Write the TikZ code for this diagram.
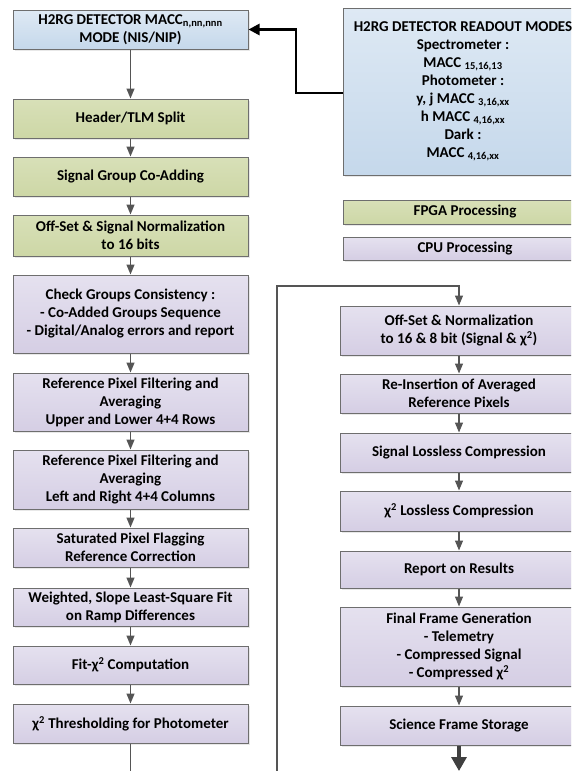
\documentclass[tikz,border=0pt]{standalone}
\usepackage{fontspec}
\setmainfont{Carlito}
\usetikzlibrary{arrows.meta,shadows}
\definecolor{bordergray}{HTML}{6E6E6E}
\definecolor{arrowgray}{HTML}{555555}
\definecolor{blueT}{HTML}{DEE9F4}
\definecolor{blueB}{HTML}{C5D8EB}
\definecolor{greenT}{HTML}{D8E0B8}
\definecolor{greenB}{HTML}{CDD7A6}
\definecolor{purpT}{HTML}{E5E1EF}
\definecolor{purpB}{HTML}{D5CEE4}
\newcommand{\sbs}[1]{\textsubscript{#1}}
\newcommand{\chisq}{χ\textsuperscript{2}}
\tikzset{
  box/.style={draw=bordergray, line width=1pt, rectangle, align=center, inner sep=0pt,
    font={\fontsize{15}{18}\selectfont\bfseries},
    drop shadow={shadow xshift=1.5pt, shadow yshift=-1.5pt, fill=black!18}},
  lbox/.style={box, minimum width=235pt},
  rbox/.style={box, minimum width=238pt},
  bluebox/.style={top color=blueT, bottom color=blueB},
  greenbox/.style={top color=greenT, bottom color=greenB},
  purpbox/.style={top color=purpT, bottom color=purpB},
  flow/.style={draw=arrowgray, line width=1.3pt, -{Triangle[length=10pt,width=8pt]}, color=arrowgray},
  flowline/.style={draw=arrowgray, line width=1.3pt},
  blackarrow/.style={draw=black, line width=2.6pt, -{Triangle[length=11pt,width=11pt]}},
  thickarrow/.style={draw=black!75, line width=3.2pt, -{Triangle[length=14pt,width=15pt]}}
}
\begin{document}
\begin{tikzpicture}[x=1pt,y=-1pt]
\path[use as bounding box] (0,0) rectangle (571,771);
\clip (0,0) rectangle (571,771);
% left column
\node[lbox,bluebox,minimum height=39pt] (L1) at (130.5,29.5) {H2RG DETECTOR MACC\sbs{n,nn,nnn}\\MODE (NIS/NIP)};
\node[lbox,greenbox,minimum height=39pt] (L2) at (130.5,118.5) {Header/TLM Split};
\node[lbox,greenbox,minimum height=39pt] (L3) at (130.5,176.5) {Signal Group Co-Adding};
\node[lbox,greenbox,minimum height=41pt] (L4) at (130.5,235.5) {Off-Set \& Signal Normalization\\to 16 bits};
\node[lbox,purpbox,minimum height=78pt] (L5) at (130.5,314) {Check Groups Consistency :\\- Co-Added Groups Sequence\\- Digital/Analog errors and report};
\node[lbox,purpbox,minimum height=58pt] (L6) at (130.5,402) {Reference Pixel Filtering and\\Averaging\\Upper and Lower 4+4 Rows};
\node[lbox,purpbox,minimum height=59pt] (L7) at (130.5,479.5) {Reference Pixel Filtering and\\Averaging\\Left and Right 4+4 Columns};
\node[lbox,purpbox,minimum height=39pt] (L8) at (130.5,547.5) {Saturated Pixel Flagging\\Reference Correction};
\node[lbox,purpbox,minimum height=38pt] (L9) at (130.5,607) {Weighted, Slope Least-Square Fit\\on Ramp Differences};
\node[lbox,purpbox,minimum height=38pt] (L10) at (130.5,665) {Fit-\chisq{} Computation};
\node[lbox,purpbox,minimum height=39pt] (L11) at (130.5,723.5) {\chisq{} Thresholding for Photometer};
% right column
\node[box,bluebox,minimum width=240pt,minimum height=167pt] (RM) at (463,91.5) {H2RG DETECTOR READOUT MODES\\Spectrometer :\\MACC \sbs{15,16,13}\\Photometer :\\y, j MACC \sbs{3,16,xx}\\h MACC \sbs{4,16,xx}\\Dark :\\MACC \sbs{4,16,xx}};
\node[box,greenbox,minimum width=244pt,minimum height=24pt] (FP) at (465,212) {FPGA Processing};
\node[box,purpbox,minimum width=244pt,minimum height=23pt] (CP) at (465,248.5) {CPU Processing};
\node[rbox,purpbox,minimum height=49pt] (R1) at (459,330.5) {Off-Set \& Normalization\\to 16 \& 8 bit (Signal \& \chisq{})};
\node[rbox,purpbox,minimum height=39pt] (R2) at (459,393.5) {Re-Insertion of Averaged\\Reference Pixels};
\node[rbox,purpbox,minimum height=39pt] (R3) at (459,452.5) {Signal Lossless Compression};
\node[rbox,purpbox,minimum height=40pt] (R4) at (459,511) {\chisq{} Lossless Compression};
\node[rbox,purpbox,minimum height=37pt] (R5) at (459,569.5) {Report on Results};
\node[rbox,purpbox,minimum height=79pt] (R6) at (459,646.5) {Final Frame Generation\\- Telemetry\\- Compressed Signal\\- Compressed \chisq};
\node[rbox,purpbox,minimum height=39pt] (R7) at (459,725.5) {Science Frame Storage};
% connectors
\coordinate (Lend) at (130.5,775);
\coordinate (loopstart) at (277,775);
\coordinate (loopcorner) at (277,286);
\coordinate (bend) at (296,93);
\coordinate (Rend) at (459,771);
\foreach \a/\b in {L1/L2,L2/L3,L3/L4,L4/L5,L5/L6,L6/L7,L7/L8,L8/L9,L9/L10,L10/L11,R1/R2,R2/R3,R3/R4,R4/R5,R5/R6,R6/R7}
  \draw[flow] (\a.south) -- (\b.north);
\draw[flowline] (L11.south) -- (Lend);
\draw[flow] (loopstart) -- (loopcorner) -| (R1.north);
\draw[blackarrow] (RM.west |- bend) -- (bend) |- (L1.east);
\draw[thickarrow] (R7.south) -- (Rend);
\end{tikzpicture}
\end{document}
